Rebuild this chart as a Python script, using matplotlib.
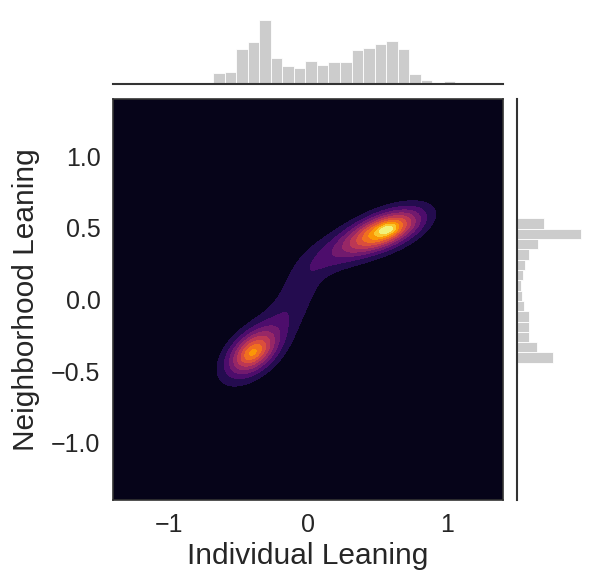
import numpy as np
import matplotlib
matplotlib.use("Agg")
import matplotlib.pyplot as plt

plt.rcParams['font.family'] = ['Liberation Sans', 'DejaVu Sans']

# marginal histogram of individual leaning (top)
x_bin_start = -0.681
x_bin_width = 0.0828
x_counts = [34, 37, 106, 127, 193, 79, 55, 49, 70, 58, 67,
            67, 103, 109, 121, 130, 106, 31, 13, 4, 8]

# marginal histogram of neighborhood leaning (right), from bottom up
y_bin_start = -0.514
y_bin_width = 0.0721
y_counts = [2, 107, 59, 37, 37, 37, 22, 16, 13, 19, 25, 37, 62, 191, 82]

# density blobs seen in the joint panel
# upper: wide, mid, core, tail / lower: wide, mid, core / bridge
blob_x = [0.50, 0.565, 0.57, 0.25, -0.35, -0.40, -0.40, -0.06]
blob_y = [0.46, 0.485, 0.49, 0.35, -0.32, -0.37, -0.375, 0.08]
blob_major = [0.24, 0.17, 0.05, 0.20, 0.23, 0.13, 0.05, 0.21]
blob_minor = [0.095, 0.072, 0.025, 0.08, 0.105, 0.08, 0.03, 0.095]
blob_angle = [23, 21, 20, 28, 45, 36, 35, 60]
blob_height = [0.22, 0.58, 0.18, 0.16, 0.22, 0.46, 0.08, 0.13]

x_ticks = [-1, 0, 1]
y_ticks = [-1.0, -0.5, 0.0, 0.5, 1.0]

text_col = '#262626'
spine_col = '#333333'

fig = plt.figure(figsize=(6, 5.84), dpi=100)
ax = fig.add_axes([0.1883, 0.1438, 0.6500, 0.6866])
ax_top = fig.add_axes([0.1883, 0.8562, 0.6500, 0.1370])
ax_right = fig.add_axes([0.8617, 0.1438, 0.1330, 0.6866])

# joint density
gx = np.linspace(-1.4, 1.4, 400)
gy = np.linspace(-1.4, 1.4, 400)
X, Y = np.meshgrid(gx, gy)
Z = np.zeros_like(X)
for cx, cy, s1, s2, a, h in zip(blob_x, blob_y, blob_major, blob_minor,
                                 blob_angle, blob_height):
    t = np.deg2rad(a)
    u = (X - cx) * np.cos(t) + (Y - cy) * np.sin(t)
    v = -(X - cx) * np.sin(t) + (Y - cy) * np.cos(t)
    Z += h * np.exp(-0.5 * ((u / s1) ** 2 + (v / s2) ** 2))

levels = np.linspace(0, Z.max(), 12)
ax.contourf(X, Y, Z, levels=levels, cmap='inferno')
ax.set_facecolor(plt.cm.inferno(0.045))
ax.set_xlim(-1.4, 1.4)
ax.set_ylim(-1.4, 1.4)
ax.set_xticks(x_ticks)
ax.set_yticks(y_ticks)
ax.set_xticklabels(['\u22121', '0', '1'])
ax.set_yticklabels(['\u22121.0', '\u22120.5', '0.0', '0.5', '1.0'])
ax.tick_params(length=0, labelsize=18, colors=text_col, pad=9)
ax.set_xlabel('Individual Leaning', fontsize=21.5, color=text_col, labelpad=4)
ax.set_ylabel('Neighborhood Leaning', fontsize=21.5, color=text_col, labelpad=8)
for s in ax.spines.values():
    s.set_color(spine_col)
    s.set_linewidth(1.2)

# marginals
x_edges = x_bin_start + x_bin_width * np.arange(len(x_counts))
ax_top.bar(x_edges, x_counts, width=x_bin_width, align='edge',
           color='#cccccc', edgecolor='white', linewidth=0.6)
ax_top.set_xlim(-1.4, 1.4)
ax_top.set_ylim(0, 240)

y_edges = y_bin_start + y_bin_width * np.arange(len(y_counts))
ax_right.barh(y_edges, y_counts, height=y_bin_width, align='edge',
              color='#cccccc', edgecolor='white', linewidth=0.6)
ax_right.set_ylim(-1.4, 1.4)
ax_right.set_xlim(0, 240)

for a_ in (ax_top, ax_right):
    a_.set_xticks([])
    a_.set_yticks([])
    for s in a_.spines.values():
        s.set_visible(False)
ax_top.spines['bottom'].set_visible(True)
ax_top.spines['bottom'].set_color(spine_col)
ax_top.spines['bottom'].set_linewidth(1.5)
ax_right.spines['left'].set_visible(True)
ax_right.spines['left'].set_color(spine_col)
ax_right.spines['left'].set_linewidth(1.5)

fig.savefig('out.png', dpi=100)
